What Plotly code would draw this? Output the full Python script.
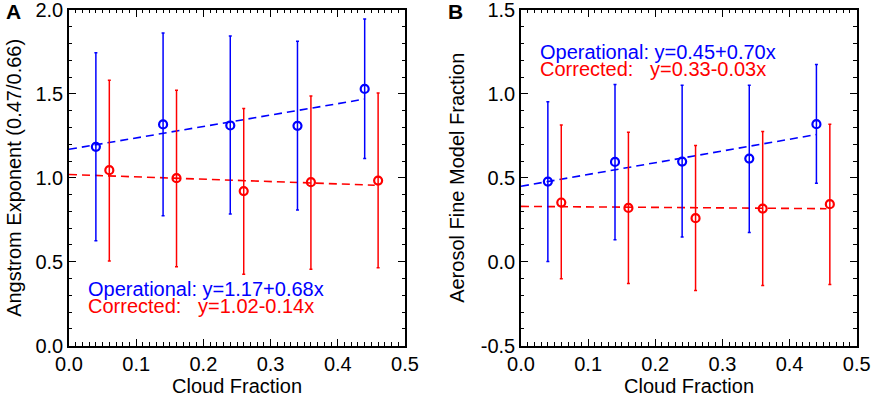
import plotly.graph_objects as go

# ---------------- data ----------------
x_oper = [0.04, 0.14, 0.24, 0.34, 0.44]
x_corr = [0.06, 0.16, 0.26, 0.36, 0.46]

# Panel A: Angstrom exponent
a_oper = [1.185, 1.318, 1.312, 1.310, 1.530]
a_oper_hi = [1.746, 1.863, 1.845, 1.814, 1.946]
a_oper_lo = [0.625, 0.774, 0.784, 0.808, 1.115]
a_corr = [1.046, 0.998, 0.921, 0.974, 0.984]
a_corr_hi = [1.582, 1.522, 1.413, 1.488, 1.506]
a_corr_lo = [0.504, 0.470, 0.425, 0.456, 0.464]

# Panel B: Aerosol fine model fraction
b_oper = [0.478, 0.595, 0.597, 0.615, 0.820]
b_oper_hi = [0.954, 1.056, 1.052, 1.052, 1.175]
b_oper_lo = [0.002, 0.131, 0.147, 0.174, 0.468]
b_corr = [0.353, 0.321, 0.260, 0.317, 0.343]
b_corr_hi = [0.815, 0.772, 0.692, 0.776, 0.820]
b_corr_lo = [-0.101, -0.129, -0.171, -0.141, -0.135]

# fit lines (intercept, slope) and x extents
fit_a = {"oper": (1.17, 0.68), "corr": (1.02, -0.14)}
fit_b = {"oper": (0.45, 0.70), "corr": (0.33, -0.03)}
fit_x_oper = [0.0, 0.44]
fit_x_corr = [0.0, 0.455]

eq_a = ["Operational: y=1.17+0.68x", "Corrected:   y=1.02-0.14x"]
eq_b = ["Operational: y=0.45+0.70x", "Corrected:   y=0.33-0.03x"]

# tick labels
x_ticks = [0.0, 0.1, 0.2, 0.3, 0.4, 0.5]
x_ticktext = ["0.0", "0.1", "0.2", "0.3", "0.4", "0.5"]
ya_ticks = [0.0, 0.5, 1.0, 1.5, 2.0]
ya_ticktext = ["0.0", "0.5", "1.0", "1.5", "2.0"]
yb_ticks = [-0.5, 0.0, 0.5, 1.0, 1.5]
yb_ticktext = ["-0.5", "0.0", "0.5", "1.0", "1.5"]

BLUE = "#0000FF"
RED = "#FF0000"
FONT = "Liberation Sans, Arial, sans-serif"

fig = go.Figure()


def add_series(xs, ys, hi, lo, color, xa, ya):
    fig.add_trace(go.Scatter(
        x=xs, y=ys, mode="markers", xaxis=xa, yaxis=ya, showlegend=False,
        marker=dict(symbol="circle-open", size=8, color=color, line=dict(width=2.2, color=color)),
        error_y=dict(type="data", symmetric=False,
                     array=[h - v for h, v in zip(hi, ys)],
                     arrayminus=[v - l for l, v in zip(lo, ys)],
                     color=color, thickness=1.5, width=1.5),
    ))


def add_fit(xr, coef, color, xa, ya):
    b0, b1 = coef
    fig.add_trace(go.Scatter(
        x=xr, y=[b0 + b1 * v for v in xr], mode="lines", xaxis=xa, yaxis=ya,
        showlegend=False, line=dict(color=color, width=1.6, dash="8px,5px"),
    ))


add_fit(fit_x_oper, fit_a["oper"], BLUE, "x", "y")
add_fit(fit_x_corr, fit_a["corr"], RED, "x", "y")
add_series(x_oper, a_oper, a_oper_hi, a_oper_lo, BLUE, "x", "y")
add_series(x_corr, a_corr, a_corr_hi, a_corr_lo, RED, "x", "y")

add_fit(fit_x_oper, fit_b["oper"], BLUE, "x2", "y2")
add_fit(fit_x_corr, fit_b["corr"], RED, "x2", "y2")
add_series(x_oper, b_oper, b_oper_hi, b_oper_lo, BLUE, "x2", "y2")
add_series(x_corr, b_corr, b_corr_hi, b_corr_lo, RED, "x2", "y2")

W, H = 872, 397
ytop = 1 - 10 / H
ybot = 1 - 345.7 / H

axis_common = dict(
    showline=True, linecolor="black", linewidth=1.5, mirror="allticks",
    ticks="inside", ticklen=7, tickwidth=1.2, tickcolor="black",
    showgrid=False, zeroline=False, automargin=False,
    ticklabeloverflow="allow",
    tickfont=dict(family=FONT, size=20, color="black"),
)
minor_common = dict(ticklen=3.5, tickwidth=1, tickcolor="black", ticks="inside")

xa = dict(axis_common, range=[0, 0.5], tickmode="array", tickvals=x_ticks, ticktext=x_ticktext,
          minor=dict(minor_common, dtick=0.01, tick0=0))
ya_a = dict(axis_common, range=[0, 2.0], tickmode="array", tickvals=ya_ticks, ticktext=ya_ticktext,
            minor=dict(minor_common, dtick=0.1, tick0=0))
ya_b = dict(axis_common, range=[-0.5, 1.5], tickmode="array", tickvals=yb_ticks, ticktext=yb_ticktext,
            minor=dict(minor_common, dtick=0.1, tick0=0))

fig.update_layout(
    width=W, height=H, margin=dict(l=0, r=0, t=0, b=0),
    paper_bgcolor="white", plot_bgcolor="white",
    font=dict(family=FONT, color="black"),
    xaxis=dict(xa, domain=[69 / W, 405 / W], anchor="y"),
    yaxis=dict(ya_a, domain=[ybot, ytop], anchor="x"),
    xaxis2=dict(xa, domain=[521 / W, 856.7 / W], anchor="y2"),
    yaxis2=dict(ya_b, domain=[ybot, ytop], anchor="x2"),
)

ann = []
# panel letters
ann.append(dict(text="<b>A</b>", x=4 / W, y=1 - 12 / H, xref="paper", yref="paper",
                xanchor="left", yanchor="middle", showarrow=False, font=dict(size=21, family=FONT)))
ann.append(dict(text="<b>B</b>", x=446 / W, y=1 - 12 / H, xref="paper", yref="paper",
                xanchor="left", yanchor="middle", showarrow=False, font=dict(size=21, family=FONT)))
# y titles
ymid = (ybot + ytop) / 2
ann.append(dict(text="Angstrom Exponent (0.47/0.66)", x=14 / W, y=ymid, xref="paper", yref="paper",
                textangle=-90, xanchor="center", yanchor="middle", showarrow=False,
                font=dict(size=20, family=FONT)))
ann.append(dict(text="Aerosol Fine Model Fraction", x=457 / W, y=ymid, xref="paper", yref="paper",
                textangle=-90, xanchor="center", yanchor="middle", showarrow=False,
                font=dict(size=20, family=FONT)))
# x titles
for cx in [(69 + 405) / 2, (521 + 856.7) / 2]:
    ann.append(dict(text="Cloud Fraction", x=cx / W, y=1 - 386 / H, xref="paper", yref="paper",
                    xanchor="center", yanchor="middle", showarrow=False,
                    font=dict(size=20, family=FONT)))
# equations
eq_font = 20
ann.append(dict(text=eq_a[0].replace(" ", "&nbsp;"), x=0.025, y=0.335, xref="x", yref="y", xanchor="left",
                yanchor="middle", showarrow=False, font=dict(size=eq_font, color=BLUE, family=FONT)))
ann.append(dict(text=eq_a[1].replace(" ", "&nbsp;"), x=0.025, y=0.235, xref="x", yref="y", xanchor="left",
                yanchor="middle", showarrow=False, font=dict(size=eq_font, color=RED, family=FONT)))
ann.append(dict(text=eq_b[0].replace(" ", "&nbsp;"), x=0.026, y=1.25, xref="x2", yref="y2", xanchor="left",
                yanchor="middle", showarrow=False, font=dict(size=eq_font, color=BLUE, family=FONT)))
ann.append(dict(text=eq_b[1].replace(" ", "&nbsp;"), x=0.026, y=1.15, xref="x2", yref="y2", xanchor="left",
                yanchor="middle", showarrow=False, font=dict(size=eq_font, color=RED, family=FONT)))
fig.update_layout(annotations=ann)

fig.write_html("out.html", config={"displayModeBar": False},
               post_script="document.body.style.margin='0';document.body.style.overflow='hidden';")
